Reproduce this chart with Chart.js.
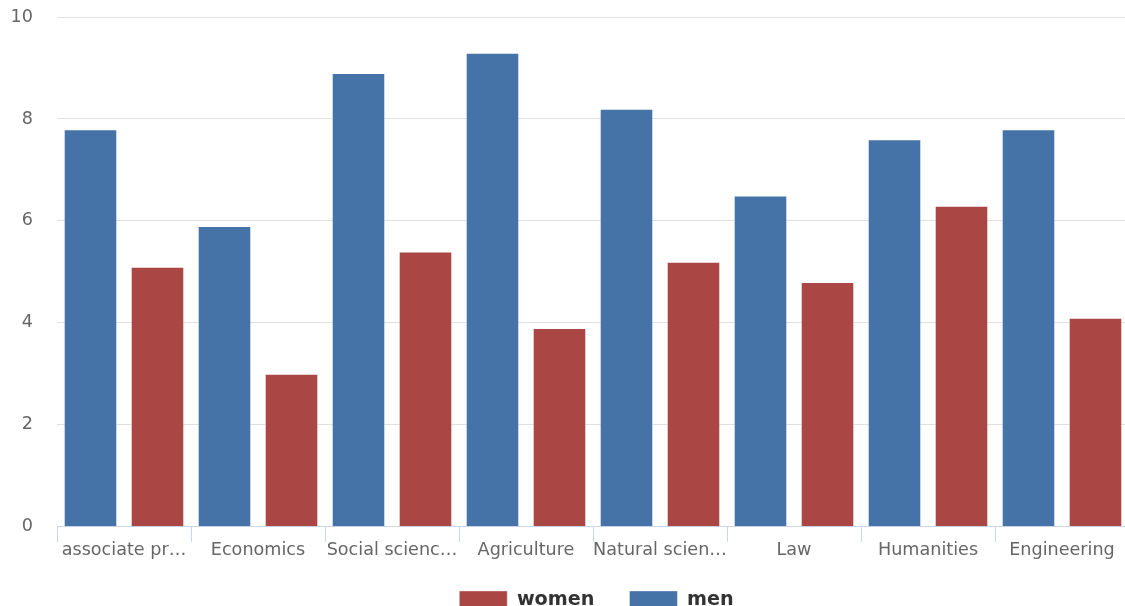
<!DOCTYPE html>
<html>
<head>
<meta charset="utf-8">
<script src="https://cdn.jsdelivr.net/npm/chart.js@4"></script>
<style>
  html, body { margin: 0; padding: 0; background: #ffffff; overflow: hidden; }
  #wrap { position: absolute; left: 0; top: 0; width: 1193px; height: 626px; }
</style>
</head>
<body>
<div id="wrap"><canvas id="chart" width="1193" height="626" style="width:1193px;height:626px"></canvas></div>
<script>
// Field categories (long names shortened for the axis)
const categories = ['associate pr…', 'Economics', 'Social scienc…', 'Agriculture', 'Natural scien…', 'Law', 'Humanities', 'Engineering'];
// Values per field
const menValues   = [7.8, 5.9, 8.9, 9.3, 8.2, 6.5, 7.6, 7.8];
const womenValues = [5.1, 3.0, 5.4, 3.9, 5.2, 4.8, 6.3, 4.1];
// Value axis
const yMin = 0;
const yMax = 10;
const yStep = 2;

const FONT = 'DejaVu Sans, Verdana, sans-serif';

// Pull the legend row a little closer to the category labels
const legendNudge = {
  id: 'legendNudge',
  afterLayout(chart) {
    const lg = chart.legend;
    if (lg) { lg.top -= 6; lg.bottom -= 6; }
  }
};

new Chart(document.getElementById('chart'), {
  type: 'bar',
  plugins: [legendNudge],
  data: {
    labels: categories,
    datasets: [
      {
        label: 'men',
        data: menValues,
        backgroundColor: '#4572A7',
        borderColor: 'rgba(255,255,255,0.45)',
        borderWidth: 1,
        yAxisID: 'y'
      },
      {
        label: 'women',
        data: womenValues,
        backgroundColor: '#AA4643',
        borderColor: 'rgba(255,255,255,0.45)',
        borderWidth: 1,
        yAxisID: 'y'
      }
    ]
  },
  options: {
    responsive: false,
    animation: false,
    devicePixelRatio: 1,
    categoryPercentage: 1.0,
    barPercentage: 0.8,
    layout: { padding: { left: 0, right: 0, top: 17, bottom: 0 } },
    plugins: {
      tooltip: { enabled: false },
      legend: {
        position: 'bottom',
        reverse: true,
        labels: {
          boxWidth: 48,
          boxHeight: 19,
          padding: 35,
          color: '#333333',
          font: { family: FONT, size: 19.2, weight: 'bold' }
        }
      }
    },
    scales: {
      x: {
        position: 'bottom',
        grid: {
          offset: true,
          drawOnChartArea: false,
          drawTicks: true,
          tickLength: 15,
          color: '#ccd6eb',
          lineWidth: 1
        },
        border: { display: true, color: '#ccd6eb', width: 1 },
        ticks: {
          color: '#666666',
          font: { family: FONT, size: 17.6 },
          padding: -2,
          maxRotation: 0,
          minRotation: 0,
          autoSkip: false
        },
        afterFit: (s) => { s.height = 35; }
      },
      y: {
        position: 'left',
        min: yMin,
        max: yMax,
        grid: {
          drawTicks: false,
          color: (c) => (c.tick && c.tick.value === 0) ? 'rgba(0,0,0,0)' : '#e0e0e0',
          lineWidth: 1
        },
        border: { display: false },
        ticks: {
          stepSize: yStep,
          color: '#666666',
          font: { family: FONT, size: 17.6 },
          padding: 24
        },
        afterFit: (s) => { s.width = 57; s.paddingTop = 0; s.paddingBottom = 0; }
      },
      yRight: {
        type: 'linear',
        position: 'right',
        min: 0,
        max: 1,
        grid: { display: false },
        border: { display: false },
        ticks: { display: false },
        afterFit: (s) => { s.width = 64; }
      }
    }
  }
});
</script>
</body>
</html>
